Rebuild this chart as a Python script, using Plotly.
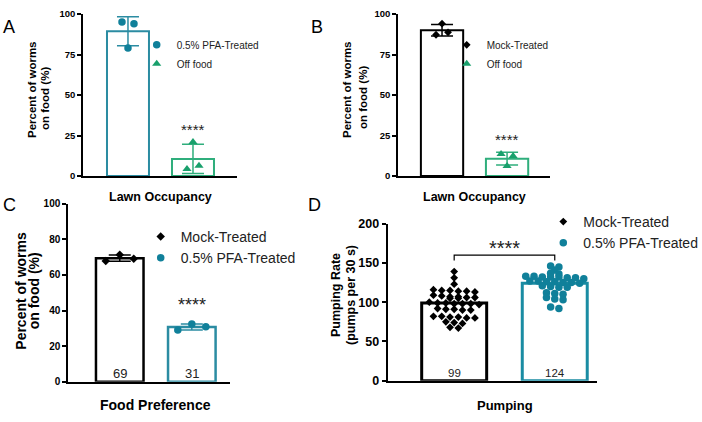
import plotly.graph_objects as go
import numpy as np

W, H = 702, 422

# ---------------- data ----------------
a_names = ["0.5% PFA-Treated", "Off food"]
a_pfa = [95, 94, 79]
a_off = [21, 4.3, 6.4]

b_names = ["Mock-Treated", "Off food"]
b_mock = [94, 87.2, 88.7]
b_off = [13.6, 12.3, 6.2]

c_names = ["Mock-Treated", "0.5% PFA-Treated"]
c_mock = [67.8, 71.3, 69.1]
c_pfa = [29.0, 32.4, 30.9]

d_names = ["Mock-Treated", "0.5% PFA-Treated"]
d_mock = [139, 131, 123,
          116, 115, 115, 114, 114, 113,
          109, 108, 107, 107, 106, 106, 105, 105,
          100, 99, 99, 98, 98, 98, 97,
          92, 91, 91, 90, 90,
          82, 82, 81, 81, 80, 80,
          75, 74, 73,
          68, 67]
d_pfa = [146, 145, 141, 137, 136,
         133, 133, 132, 132, 132, 131, 131, 130,
         127, 127, 126, 126, 125, 125, 124,
         121, 120, 119, 119,
         112, 111, 110,
         106, 104, 103,
         94, 92]
d_means = [99, 124]

ab_ticks = [0, 25, 50, 75, 100]
c_ticks = [0, 20, 40, 60, 80, 100]
d_ticks = [0, 50, 100, 150, 200]

sig_text = "****"

# ---------------- styling ----------------
TEAL_M = "#10809a"
TEAL_L = "#2b8ca2"
GREEN_M = "#19a06c"
GREEN_L = "#2fae7c"
BLACK = "#000000"
FONT = "Liberation Sans, Arial, sans-serif"


def px2x(px):
    return px / W


def py2y(py):
    return 1 - py / H


def swarm(vals, tol, step):
    order = sorted(range(len(vals)), key=lambda i: -vals[i])
    rows = []
    for i in order:
        if rows and rows[-1][0] - vals[i] <= tol:
            rows[-1][1].append(i)
        else:
            rows.append([vals[i], [i]])
    off = [0.0] * len(vals)
    for _, idx in rows:
        idx = sorted(idx)
        n = len(idx)
        for k, i in enumerate(idx):
            off[i] = (k - (n - 1) / 2) * step
    return off


fig = go.Figure()

panels = [
    dict(k="", xd=(83, 237), yd=(14, 176), xr=[-0.692, 1.677], yr=[0, 100], ticks=ab_ticks,
         bw=0.646, tickfs=9.5, lw=1.5, ppu=65.0, tol=4.3, step_px=12, err=True, cap=11,
         groups=[(a_names[0], a_pfa, "circle", 7.5, TEAL_M, TEAL_L, 2),
                 (a_names[1], a_off, "triangle-up", 8, GREEN_M, GREEN_L, 2)],
         legend="legend"),
    dict(k="2", xd=(398, 550), yd=(14, 176), xr=[-0.677, 1.66], yr=[0, 100], ticks=ab_ticks,
         bw=0.65, tickfs=9.5, lw=1.5, ppu=65.0, tol=4.3, step_px=12, err=True, cap=11,
         groups=[(b_names[0], b_mock, "diamond", 6, BLACK, BLACK, 2),
                 (b_names[1], b_off, "triangle-up", 8, GREEN_M, GREEN_L, 2)],
         legend="legend2"),
    dict(k="3", xd=(68.3, 230), yd=(203.7, 381.7), xr=[-0.714, 1.53], yr=[0, 100], ticks=c_ticks,
         bw=0.66, tickfs=10, lw=2, ppu=72.0, tol=3.9, step_px=14, err=True, cap=11,
         groups=[(c_names[0], c_mock, "diamond", 6.5, BLACK, BLACK, 2.5),
                 (c_names[1], c_pfa, "circle", 7.5, TEAL_M, TEAL_L, 2.5)],
         legend="legend3"),
    dict(k="4", xd=(387.7, 597), yd=(223.7, 380.7), xr=[-0.661, 1.42], yr=[0, 200], ticks=d_ticks,
         bw=0.646, tickfs=12.5, lw=2, ppu=100.6, tol=3.0, step_px=8.3, err=False, cap=0,
         groups=[(d_names[0], d_mock, "diamond", 6, BLACK, BLACK, 3),
                 (d_names[1], d_pfa, "circle", 7.5, TEAL_M, "#1a8ca3", 3)],
         legend="legend4"),
]

layout_axes = {}
for p in panels:
    xa, ya = "x" + p["k"], "y" + p["k"]
    for gi, (name, vals, sym, msize, mcol, lcol, blw) in enumerate(p["groups"]):
        vals = np.array(vals, dtype=float)
        if p["k"] == "4":
            mean = d_means[gi]
            sd = 0
        else:
            mean = float(vals.mean())
            sd = float(vals.std(ddof=1))
        fig.add_trace(go.Bar(
            x=[gi], y=[mean], width=[p["bw"]], xaxis=xa, yaxis=ya,
            marker=dict(color="white", line=dict(color=lcol, width=blw)),
            error_y=dict(type="data", array=[sd], visible=p["err"], color=lcol if mcol != BLACK else BLACK,
                         thickness=1.5, width=p["cap"]),
            showlegend=False, hoverinfo="skip"))
        offs = swarm(list(vals), p["tol"], p["step_px"] / p["ppu"])
        fig.add_trace(go.Scatter(
            x=[gi + o for o in offs], y=vals, mode="markers", xaxis=xa, yaxis=ya,
            marker=dict(symbol=sym, size=msize, color=mcol, line=dict(width=0)),
            name=name, legend=p["legend"], cliponaxis=False, showlegend=True))

    xname = "xaxis" + p["k"]
    yname = "yaxis" + p["k"]
    layout_axes[xname] = dict(
        domain=[px2x(p["xd"][0]), px2x(p["xd"][1])], range=p["xr"], anchor=ya,
        showline=True, linecolor="black", linewidth=p["lw"], ticks="", showticklabels=False,
        zeroline=False, showgrid=False, fixedrange=True)
    layout_axes[yname] = dict(
        domain=[py2y(p["yd"][1]), py2y(p["yd"][0])], range=p["yr"], anchor=xa,
        tickvals=p["ticks"], ticks="outside", ticklen=4, tickwidth=p["lw"], tickcolor="black",
        tickfont=dict(family=FONT, size=p["tickfs"], color="black", weight="bold"),
        showline=True, linecolor="black", linewidth=p["lw"],
        zeroline=False, showgrid=False, fixedrange=True)

fig.update_layout(**layout_axes)

# bracket in D
grp = [0, 1]
br_top, br_bot = 160, 153
fig.add_shape(type="path", xref="x4", yref="y4",
              path=f"M {grp[0]},{br_bot} L {grp[0]},{br_top} L {grp[1]},{br_top} L {grp[1]},{br_bot}",
              line=dict(color="black", width=1.2))

ann = []
# panel letters
for letter, (lx, ly) in zip("ABCD", [(1, 26.5), (309, 26.5), (1, 205), (306, 205)]):
    ann.append(dict(text=letter, x=px2x(lx), y=py2y(ly), xref="paper", yref="paper",
                    xanchor="left", yanchor="middle", showarrow=False,
                    font=dict(family=FONT, size=18, color="black")))

# significance stars
for xr_, yr_, xv, yv, fs in [("x", "y", 1, 28.4, 15), ("x2", "y2", 1, 22.6, 15),
                             ("x3", "y3", 1, 43, 18), ("x4", "y4", 0.5, 168.6, 20)]:
    ann.append(dict(text=sig_text, x=xv, y=yv, xref=xr_, yref=yr_, showarrow=False,
                    xanchor="center", yanchor="middle",
                    font=dict(family=FONT, size=fs, color="#222")))

# value labels in C and D
c_means = [np.mean(c_mock), np.mean(c_pfa)]
for gi, m in enumerate(c_means):
    ann.append(dict(text=f"{m:.0f}", x=gi, y=4.7, xref="x3", yref="y3", showarrow=False,
                    xanchor="center", yanchor="middle", font=dict(family=FONT, size=13, color="#222")))
for gi, m in enumerate(d_means):
    ann.append(dict(text=f"{m:.0f}", x=gi, y=10.2, xref="x4", yref="y4", showarrow=False,
                    xanchor="center", yanchor="middle", font=dict(family=FONT, size=11.5, color="#222")))

# x titles
for txt, cx, cy, fs in [("Lawn Occupancy", 160, 197, 12.5), ("Lawn Occupancy", 474.7, 197, 12.5),
                        ("Food Preference", 155, 405, 14), ("Pumping", 505, 405, 13)]:
    ann.append(dict(text=txt, x=px2x(cx), y=py2y(cy), xref="paper", yref="paper", showarrow=False,
                    xanchor="center", yanchor="middle",
                    font=dict(family=FONT, size=fs, color="black", weight="bold")))

# y titles (one annotation per line)
for txt, cx, cy, fs in [("Percent of worms", 32, 90, 11.5), ("on food (%)", 45, 98, 11.5),
                        ("Percent of worms", 347, 90, 11.5), ("on food (%)", 363, 98, 11.5),
                        ("Percent of worms", 20.7, 291, 14), ("on food (%)", 34.3, 291, 14),
                        ("Pumping Rate", 336, 295, 12.5), ("(pumps per 30 s)", 351, 295, 12.5)]:
    ann.append(dict(text=txt, x=px2x(cx), y=py2y(cy), xref="paper", yref="paper", showarrow=False,
                    xanchor="center", yanchor="middle", textangle=-90,
                    font=dict(family=FONT, size=fs, color="black", weight="bold")))

fig.update_layout(annotations=ann)

leg_common = dict(bgcolor="rgba(0,0,0,0)", borderwidth=0, xanchor="left", yanchor="middle",
                  itemclick=False, itemdoubleclick=False, tracegroupgap=0)
fig.update_layout(
    legend=dict(x=px2x(136.7), y=py2y(54.3), font=dict(family=FONT, size=10, color="#222"), **leg_common),
    legend2=dict(x=px2x(446.7), y=py2y(54.3), font=dict(family=FONT, size=10, color="#222"), **leg_common),
    legend3=dict(x=px2x(140.7), y=py2y(247.5), font=dict(family=FONT, size=14, color="#222"), **leg_common),
    legend4=dict(x=px2x(543.3), y=py2y(232.5), font=dict(family=FONT, size=14, color="#222"), **leg_common),
)

fig.update_layout(width=W, height=H, margin=dict(l=0, r=0, t=0, b=0, pad=0, autoexpand=False),
                  paper_bgcolor="white", plot_bgcolor="white", barmode="overlay",
                  font=dict(family=FONT), showlegend=True)

fig.write_html("out.html", config=dict(displayModeBar=False),
               post_script="document.body.style.margin='0px';document.body.style.padding='0px';")
